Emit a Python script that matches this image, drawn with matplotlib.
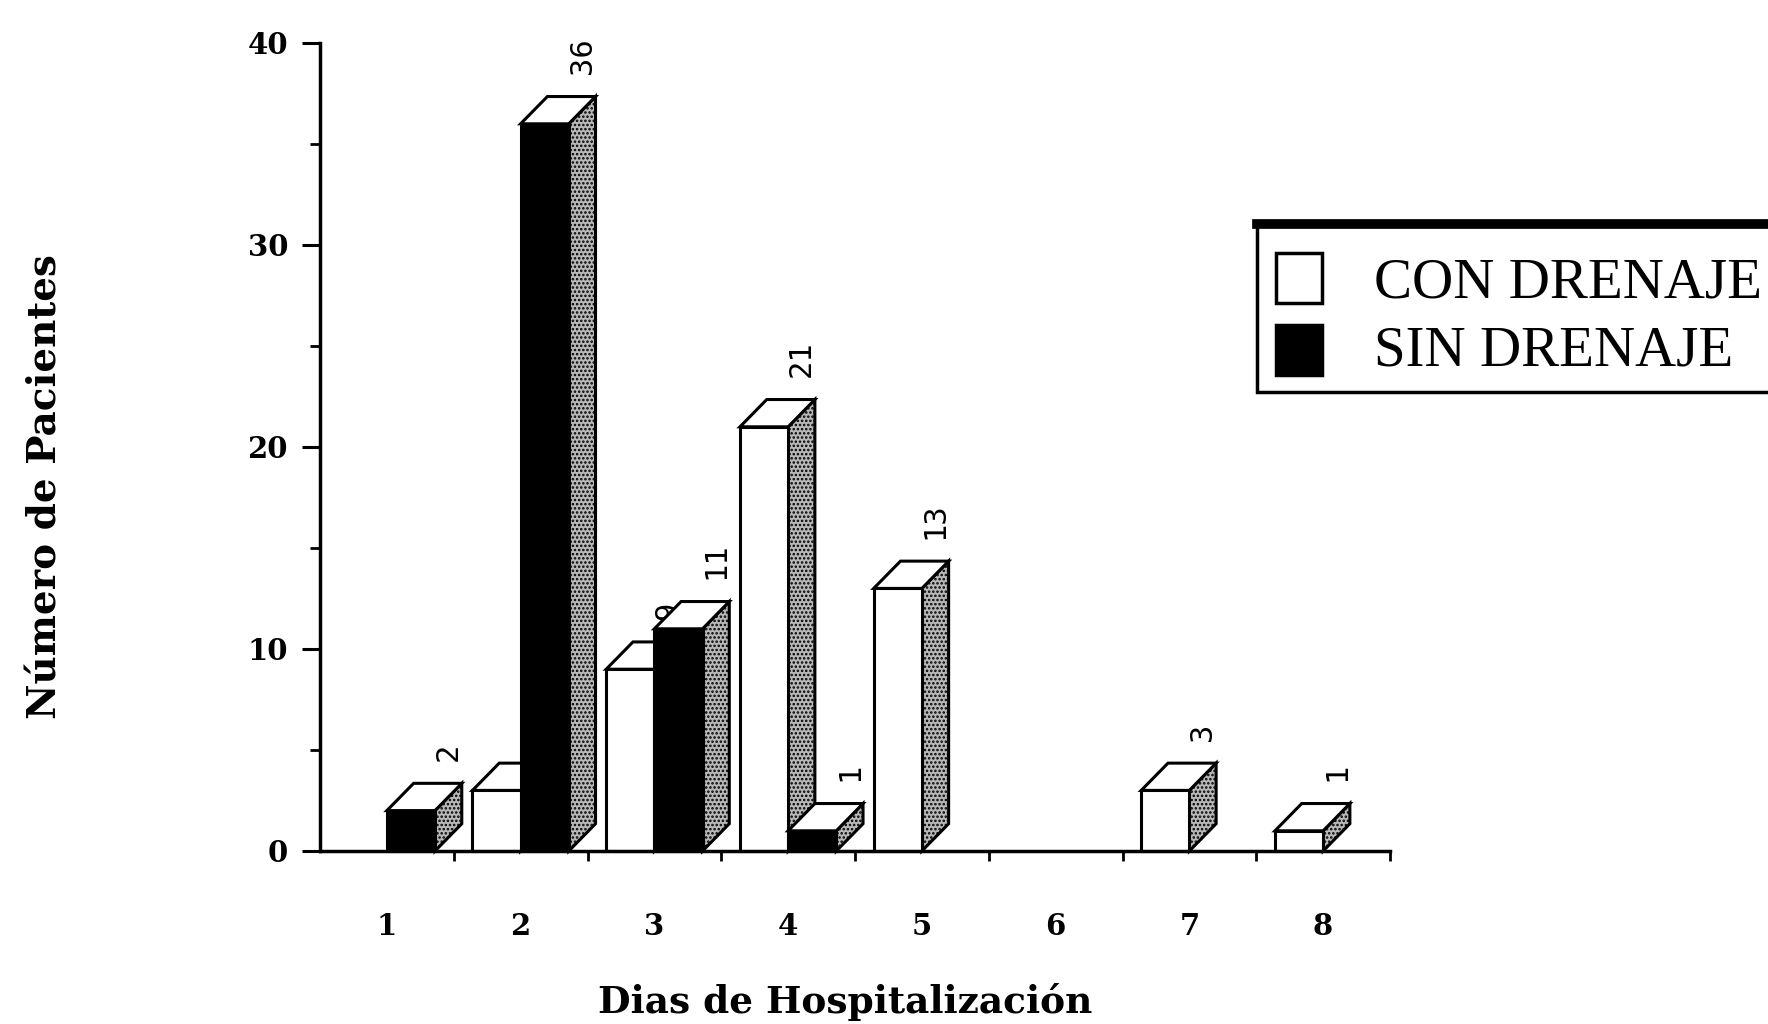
import matplotlib
matplotlib.use("Agg")
import matplotlib.pyplot as plt
from matplotlib.patches import Polygon, Rectangle
from matplotlib.lines import Line2D

# data
dias = [1, 2, 3, 4, 5, 6, 7, 8]
con_drenaje = [0, 3, 9, 21, 13, 0, 3, 1]
sin_drenaje = [2, 36, 11, 1, 0, 0, 0, 0]
series_labels = ["CON DRENAJE", "SIN DRENAJE"]
y_ticks = [0, 10, 20, 30, 40]

# pseudo-3D geometry (data units)
BAR_W = 0.36
DX = 0.2
DY = 1.35
SIDE_COLOR = "#b8b8b8"

plt.rcParams["hatch.linewidth"] = 1.2


def draw_bar(ax, x0, h, face, z):
    """Front face, shaded side and top parallelogram of one 3D bar."""
    if h <= 0:
        return
    kw = dict(edgecolor="black", linewidth=2.2, clip_on=False, joinstyle="miter")
    front = [(x0, 0), (x0 + BAR_W, 0), (x0 + BAR_W, h), (x0, h)]
    side = [(x0 + BAR_W, 0), (x0 + BAR_W + DX, DY), (x0 + BAR_W + DX, h + DY), (x0 + BAR_W, h)]
    top = [(x0, h), (x0 + BAR_W, h), (x0 + BAR_W + DX, h + DY), (x0 + DX, h + DY)]
    ax.add_patch(Polygon(side, closed=True, facecolor=SIDE_COLOR, hatch="....", zorder=z, **kw))
    ax.add_patch(Polygon(front, closed=True, facecolor=face, zorder=z + 0.1, **kw))
    ax.add_patch(Polygon(top, closed=True, facecolor="white", zorder=z + 0.2, **kw))
    ax.text(x0 + BAR_W + 0.1, h + DY + 1.1, str(h), rotation=90, ha="center", va="bottom",
            family="DejaVu Sans Mono", fontsize=22, zorder=z + 0.3, clip_on=False)


fig = plt.figure(figsize=(17.68, 10.24), dpi=100)
ax = fig.add_axes([320 / 1768, 1 - 851 / 1024, 1070 / 1768, 808 / 1024])

for i, d in enumerate(dias):
    z = 3 + 2 * i
    draw_bar(ax, d - BAR_W, con_drenaje[i], "white", z)
    draw_bar(ax, d, sin_drenaje[i], "black", z + 1)

ax.set_xlim(0.5, 8.5)
ax.set_ylim(0, 40)

for s in ["top", "right"]:
    ax.spines[s].set_visible(False)
for s in ["left", "bottom"]:
    ax.spines[s].set_linewidth(2.5)
    ax.spines[s].set_zorder(50)

ax.set_yticks(y_ticks)
ax.set_yticks([5, 15, 25, 35], minor=True)
ax.tick_params(axis="y", which="major", length=13, width=2.2, pad=10, labelsize=21)
ax.tick_params(axis="y", which="minor", length=7, width=2)
for lbl in ax.get_yticklabels():
    lbl.set_fontweight("bold")
    lbl.set_family("DejaVu Serif")

ax.set_xticks(dias)
ax.set_xticklabels([str(d) for d in dias])
ax.set_xticks([d + 0.5 for d in dias], minor=True)
ax.tick_params(axis="x", which="major", length=0, pad=44, labelsize=21)
ax.tick_params(axis="x", which="minor", length=7, width=2)
for lbl in ax.get_xticklabels():
    lbl.set_fontweight("bold")
    lbl.set_family("DejaVu Serif")

ax.set_xlabel("Dias de Hospitalización", fontsize=27, fontweight="bold", family="DejaVu Serif")
ax.xaxis.label.set_va("center")
ax.xaxis.set_label_coords((845 - 320) / 1070, (851 - 1002) / 808)
ax.set_ylabel("Número de Pacientes", fontsize=28, fontweight="bold", family="DejaVu Serif")
ax.yaxis.label.set_va("center")
ax.yaxis.set_label_coords((45 - 320) / 1070, (851 - 487) / 808)

# legend box, drawn by hand: it runs off the right edge in the scan
W, H = 1768, 1024
fig.patches.append(Rectangle((1257 / W, 1 - 392 / H), 560 / W, (392 - 225) / H,
                             transform=fig.transFigure, facecolor="white",
                             edgecolor="black", linewidth=2.5, clip_on=False))
fig.lines.append(Line2D([1257 / W, 1.0], [1 - 224 / H, 1 - 224 / H],
                        transform=fig.transFigure, color="black", linewidth=7))
handle_colors = ["white", "black"]
handle_tops = [253, 325]
text_centers = [283, 352]
for lab, col, top, yc in zip(series_labels, handle_colors, handle_tops, text_centers):
    fig.patches.append(Rectangle((1276 / W, 1 - (top + 50) / H), 46 / W, 50 / H,
                                 transform=fig.transFigure, facecolor=col,
                                 edgecolor="black", linewidth=2.5))
    fig.text(1374 / W, 1 - yc / H, lab, ha="left", va="center",
             family="Liberation Serif", fontsize=41)

fig.savefig("out.png", dpi=100, facecolor="white")
